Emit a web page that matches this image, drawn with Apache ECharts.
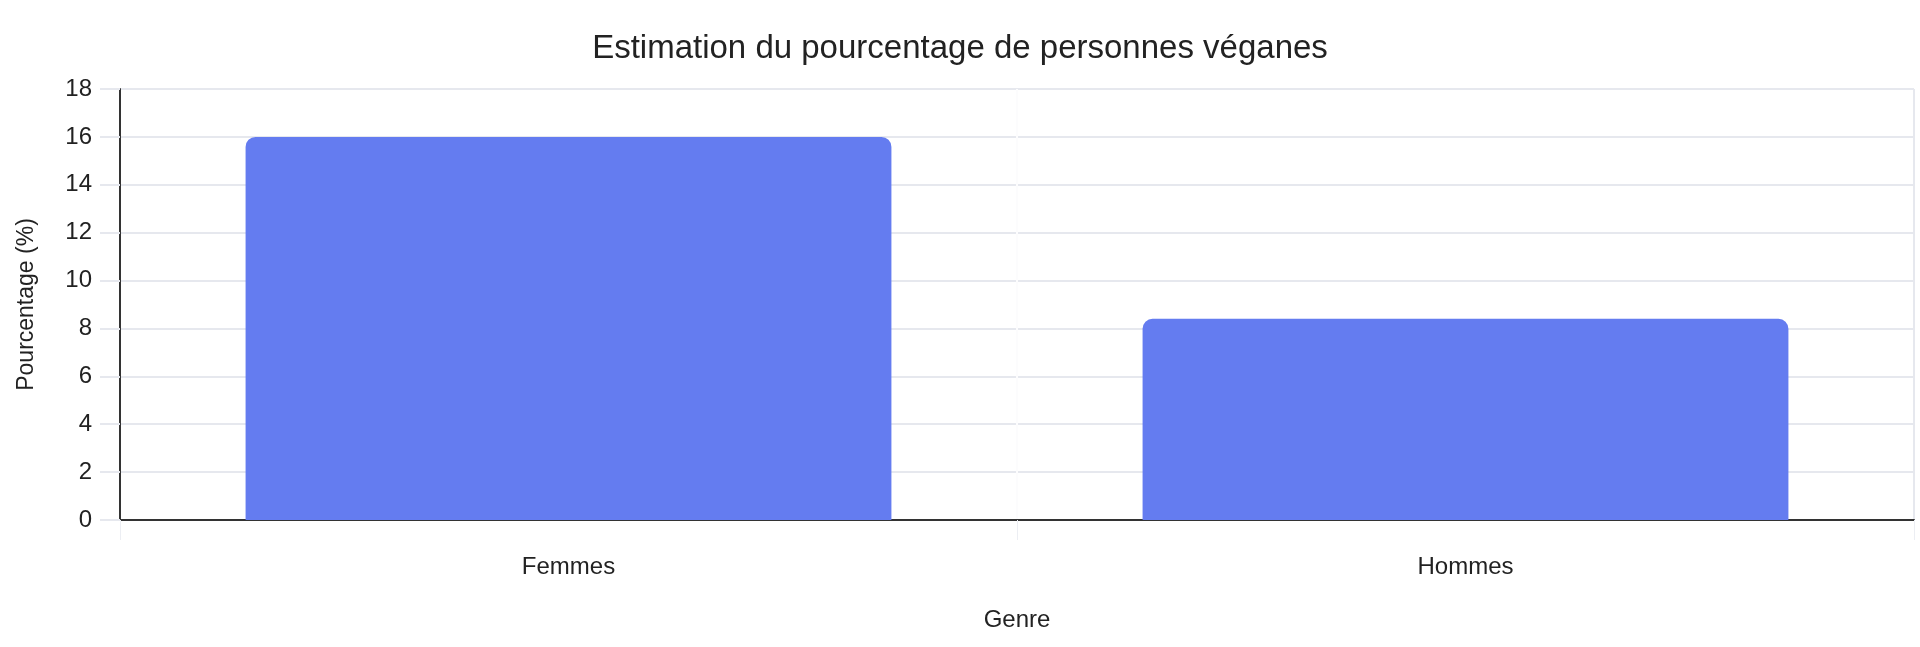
<!DOCTYPE html>
<html>
<head>
<meta charset="utf-8">
<title>Estimation du pourcentage de personnes véganes</title>
<script src="https://cdn.jsdelivr.net/npm/echarts@6/dist/echarts.min.js"></script>
<style>
  html, body { margin: 0; padding: 0; background: #fff; }
  #chart { width: 1920px; height: 647px; }
</style>
</head>
<body>
<div id="chart"></div>
<script>
// données
const categories = ['Femmes', 'Hommes']
const pourcentages = [16.0, 8.4]
const yTicks = [0, 2, 4, 6, 8, 10, 12, 14, 16, 18]

const font = 'Helvetica, Arial, "Liberation Sans", sans-serif'
const chart = echarts.init(document.getElementById('chart'))

chart.setOption({
  animation: false,
  title: {
    text: 'Estimation du pourcentage de personnes véganes',
    left: 'center',
    top: 27,
    textStyle: { fontFamily: font, fontSize: 33, fontWeight: 'normal', color: '#222' }
  },
  grid: { left: 120, right: 6, top: 89, bottom: 127 },
  xAxis: {
    type: 'category',
    data: categories,
    name: 'Genre',
    nameLocation: 'middle',
    nameGap: 88,
    nameTextStyle: { fontFamily: font, fontSize: 24, color: '#222' },
    axisLine: { lineStyle: { color: '#333', width: 2 } },
    axisTick: { show: true, length: 20, lineStyle: { color: '#eceef3' } },
    axisLabel: { margin: 35, fontFamily: font, fontSize: 24, color: '#222' },
    // ligne du milieu presque invisible, bord droit gris clair
    splitLine: { show: true, lineStyle: { color: ['#e6e8ee', '#fcfcfd'], width: 2 } }
  },
  yAxis: {
    type: 'value',
    min: yTicks[0],
    max: yTicks[yTicks.length - 1],
    interval: 2,
    name: 'Pourcentage (%)',
    nameLocation: 'middle',
    nameGap: 82,
    nameTextStyle: { fontFamily: font, fontSize: 23, color: '#222' },
    axisLine: { show: true, lineStyle: { color: '#333', width: 2 } },
    axisTick: { show: true, length: 20, lineStyle: { color: '#e6e8ee', width: 2 } },
    axisLabel: { margin: 28, fontFamily: font, fontSize: 24, color: '#222' },
    splitLine: { lineStyle: { color: '#e6e8ee', width: 2 } }
  },
  series: [{
    type: 'bar',
    data: pourcentages,
    barWidth: '72%',
    itemStyle: { color: '#647cf0', borderRadius: [10, 10, 0, 0] }
  }]
})
</script>
</body>
</html>
